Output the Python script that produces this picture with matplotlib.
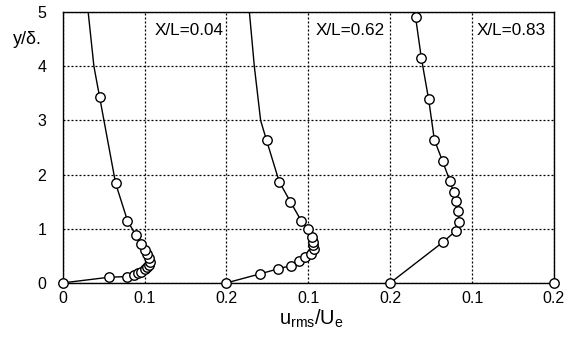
import matplotlib
matplotlib.use("Agg")
import matplotlib.pyplot as plt

plt.rcParams['font.family'] = ['Liberation Sans', 'DejaVu Sans']
plt.rcParams['mathtext.default'] = 'regular'

# u_rms/U_e profiles, each shifted by 0.2 along x
x1 = [0, 0.0566, 0.078, 0.087, 0.092, 0.096, 0.100, 0.103, 0.1055, 0.106,
      0.1055, 0.103, 0.100, 0.096, 0.089, 0.079, 0.0645, 0.045]
y1 = [0, 0.105, 0.117, 0.148, 0.18, 0.21, 0.253, 0.29, 0.33, 0.395,
      0.455, 0.535, 0.61, 0.72, 0.886, 1.15, 1.84, 3.43]
x1_top = [0.038, 0.031]
y1_top = [4.0, 5.0]

x2 = [0, 0.0408, 0.0632, 0.0787, 0.0888, 0.0958, 0.1028, 0.107, 0.106,
      0.1053, 0.1044, 0.0999, 0.0916, 0.078, 0.0644, 0.049]
y2 = [0, 0.166, 0.26, 0.32, 0.405, 0.485, 0.535, 0.63, 0.70,
      0.76, 0.84, 0.99, 1.14, 1.50, 1.87, 2.63]
x2_top = [0.0417, 0.034, 0.028]
y2_top = [3.0, 4.0, 5.0]

x3 = [0, 0.065, 0.0805, 0.084, 0.083, 0.0805, 0.0775, 0.073, 0.064,
      0.054, 0.047, 0.038, 0.031]
y3 = [0, 0.76, 0.965, 1.13, 1.32, 1.51, 1.67, 1.88, 2.25,
      2.64, 3.39, 4.16, 4.91]

offsets = [0.0, 0.2, 0.4]
labels = ['X/L=0.04', 'X/L=0.62', 'X/L=0.83']
label_x = [0.112, 0.309, 0.505]

xticks = [0, 0.1, 0.2, 0.3, 0.4, 0.5, 0.6]
xtick_labels = ['0', '0.1', '0.2', '0.1', '0.2', '0.1', '0.2']
yticks = [0, 1, 2, 3, 4, 5]

fig = plt.figure(figsize=(5.71, 3.38), dpi=100)
ax = fig.add_axes([0.110, 0.163, 0.860, 0.801])

mk = dict(marker='o', ms=6.8, mfc='white', mec='black', mew=1.0,
          color='black', lw=1.0, clip_on=False, zorder=3)

profiles = [(x1, y1, x1_top, y1_top), (x2, y2, x2_top, y2_top), (x3, y3, [], [])]
for (xs, ys, xt, yt), off in zip(profiles, offsets):
    # line continues past the last measured point
    ax.plot([v + off for v in xs[-1:] + xt], ys[-1:] + yt, color='black', lw=1.0, zorder=2)
    ax.plot([v + off for v in xs], ys, **mk)

# lone wall point at the right edge
ax.plot([0.6], [0], linestyle='none', **{k: v for k, v in mk.items() if k not in ('color', 'lw')})

for lx, lab in zip(label_x, labels):
    ax.text(lx, 4.52, lab, fontsize=12.3, ha='left', va='bottom')

ax.set_xlim(0, 0.6)
ax.set_ylim(0, 5)
ax.set_xticks(xticks)
ax.set_xticklabels(xtick_labels)
ax.set_yticks(yticks)
ax.tick_params(axis='both', length=0, labelsize=11.5)
ax.tick_params(axis='x', pad=6)
ax.tick_params(axis='y', pad=12)
ax.grid(True, color='black', linestyle=(0, (1.6, 1.6)), lw=0.9)
ax.set_axisbelow(True)
for s in ax.spines.values():
    s.set_linewidth(1.0)
    s.set_color('black')

fig.text(0.545, 0.040, r'$u_{rms}/U_e$', fontsize=14.5, ha='center', va='baseline')
fig.text(0.023, 0.858, 'y/δ.', fontsize=13, ha='left', va='bottom')

fig.savefig('out.png', dpi=100)
